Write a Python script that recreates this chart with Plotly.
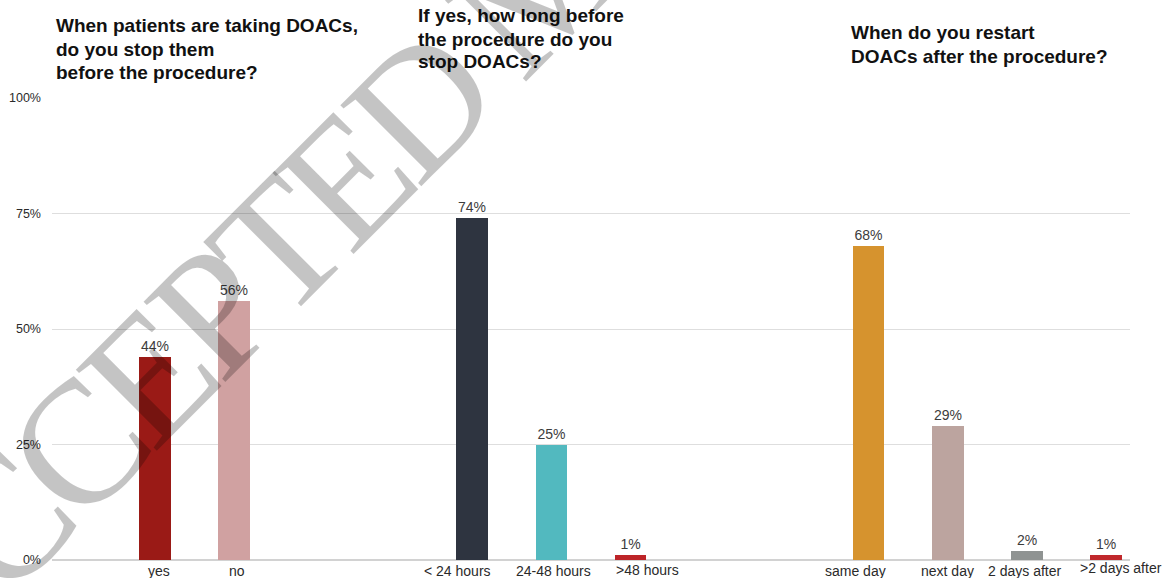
import plotly.graph_objects as go

# Survey answers, grouped by question
q1_labels = ["yes", "no"]
q1_values = [44, 56]
q1_colors = ["#9a1a16", "#d0a1a1"]

q2_labels = ["< 24 hours", "24-48 hours", ">48 hours"]
q2_values = [74, 25, 1]
q2_colors = ["#2e3440", "#52b9bf", "#bd2428"]

q3_labels = ["same day", "next day", "2 days after", ">2 days after"]
q3_values = [68, 29, 2, 1]
q3_colors = ["#d6932e", "#bca49f", "#8f9392", "#c0282c"]

questions = [
    ["When patients are taking DOACs,", "do you stop them", "before the procedure?"],
    ["If yes, how long before", "the procedure do you", "stop DOACs?"],
    ["When do you restart", "DOACs after the procedure?"],
]

y_ticks = [0, 25, 50, 75, 100]
y_tick_text = ["0%", "25%", "50%", "75%", "100%"]

# category label nudges (px) so neighbouring labels do not collide
label_dx = [4, 3, -15, 2, 17, -13, 0, -2, 15]
label_dy = [0, 0, 0, 0, 1, 0, 0, 0, 3]

W, H = 1169, 578
ML, MR, MT, MB = 52, 39, 98, 18
GAP = 2  # empty slots between question groups
SANS = "Liberation Sans, Arial, Helvetica, sans-serif"

# lay the groups out on one numeric axis
groups = [(q1_labels, q1_values, q1_colors),
          (q2_labels, q2_values, q2_colors),
          (q3_labels, q3_values, q3_colors)]
xs, labels, values, colors = [], [], [], []
pos = 0
for lab, val, col in groups:
    for l, v, c in zip(lab, val, col):
        xs.append(pos)
        labels.append(l)
        values.append(v)
        colors.append(c)
        pos += 1
    pos += GAP

fig = go.Figure()
fig.add_trace(go.Bar(
    x=xs, y=values, width=0.40,
    marker=dict(color=colors, line=dict(width=0)),
    text=[f"{v}%" for v in values],
    textposition="outside",
    textfont=dict(family=SANS, size=14, color="#3c3c3c"),
    cliponaxis=False,
    showlegend=False,
))

# category labels under the bars
for x, lab, dx, dy in zip(xs, labels, label_dx, label_dy):
    fig.add_annotation(
        text=lab, x=x, y=0, xref="x", yref="paper",
        xanchor="center", yanchor="top", xshift=dx, yshift=dy - 1,
        showarrow=False,
        font=dict(family=SANS, size=14, color="#2a2a2a"),
    )

pw = W - ML - MR
ph = H - MT - MB


def px_x(px):
    return (px - ML) / pw


def px_y(py):
    return (H - MB - py) / ph


# question headings, one annotation per line for a tight line pitch
heading_px = [(54, 26), (416, 16), (849, 33)]
LINE_PITCH = 23
for lines, (tx, ty) in zip(questions, heading_px):
    for i, line in enumerate(lines):
        fig.add_annotation(
            text=line, xref="paper", yref="paper",
            x=px_x(tx), y=px_y(ty + i * LINE_PITCH),
            xanchor="left", yanchor="middle", align="left", showarrow=False,
            font=dict(family=SANS, size=19, color="#111111", weight="bold"),
        )

# diagonal watermark
fig.add_annotation(
    text='<span style="letter-spacing:-11px">ACCEPTED MANUSCRIPT</span>',
    xref="paper", yref="paper",
    x=px_x(543), y=px_y(-19), xanchor="center", yanchor="middle",
    showarrow=False, textangle=-45,
    font=dict(family="Liberation Serif, Times New Roman, serif", size=175,
              color="rgba(0,0,0,0.23)"),
)

fig.update_layout(
    width=W, height=H,
    margin=dict(l=ML, r=MR, t=MT, b=MB, autoexpand=False),
    plot_bgcolor="white", paper_bgcolor="white",
    bargap=0,
    xaxis=dict(
        range=[-1.30, pos - GAP - 1 + 0.30],
        showticklabels=False,
        showgrid=False, zeroline=False, showline=False, ticks="",
        automargin=False, fixedrange=True,
    ),
    yaxis=dict(
        range=[0, 100],
        tickmode="array", tickvals=y_ticks, ticktext=y_tick_text,
        showgrid=True, gridcolor="#dedede", gridwidth=1,
        zeroline=True, zerolinecolor="#d2d2d2", zerolinewidth=1.5,
        showline=False, ticks="", ticklabelstandoff=10,
        tickfont=dict(family=SANS, size=12.5, color="#2a2a2a"),
        automargin=False, fixedrange=True,
    ),
)

fig.write_html("out.html")
